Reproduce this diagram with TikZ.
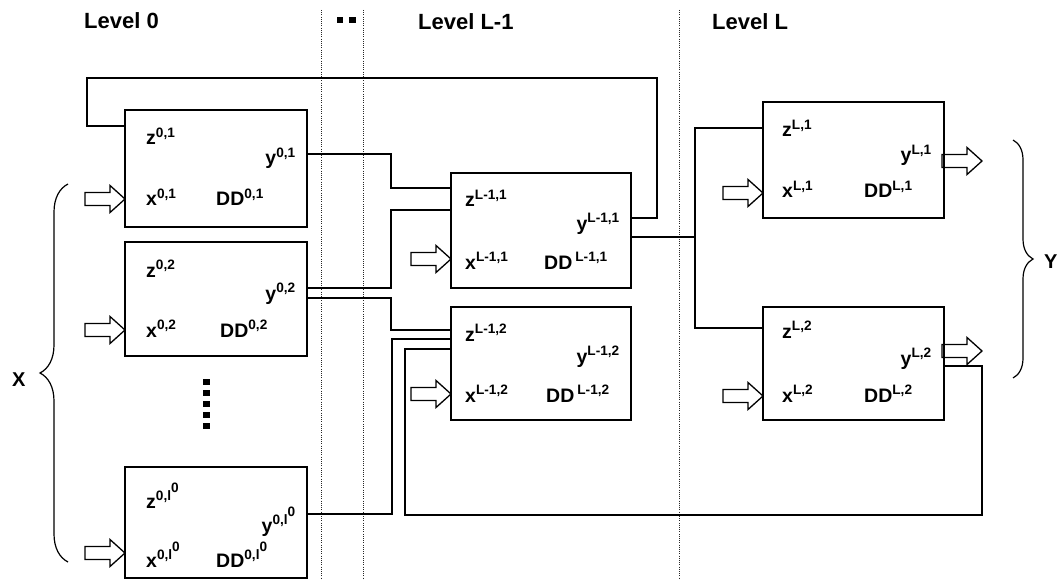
\documentclass[tikz,border=0pt]{standalone}
\usepackage{fontspec}
\setmainfont{Liberation Sans}
\usepackage{tikz}
\usetikzlibrary{positioning, decorations.pathreplacing}

\newcommand{\sps}[1]{\textsuperscript{#1}}
\newcommand{\lzero}{l\raisebox{0.55em}{0}}

\begin{document}
\begin{tikzpicture}[
    x=1pt, y=-1pt,
    ddbox/.style={rectangle, draw, line width=1.7pt, inner sep=0pt, outer sep=0pt},
    lbl/.style={inner sep=0pt, font=\fontsize{19.5}{22}\selectfont\bfseries, anchor=base west},
    lblr/.style={lbl, anchor=base east},
    level/.style={inner sep=0pt, font=\fontsize{22}{24}\selectfont\bfseries, anchor=base west},
    wire/.style={line width=1.7pt},
    sep/.style={line width=0.9pt, dash pattern=on 1pt off 1.2pt, black!85},
    curly/.style={decorate, decoration={brace, amplitude=#1}, line width=1.2pt},
    hollow/.pic={\draw[line width=1.3pt] (0,0) -- (-15,-13.5) -- (-15,-6.5) -- (-40,-6.5) -- (-40,6.5) -- (-15,6.5) -- (-15,13.5) -- cycle;}
]
    \useasboundingbox (0,0) rectangle (1057,580);

    % Levels
    \node[level] (lev0) at (84,29) {Level 0};
    \node[level] (levm) at (418,30) {Level L-1};
    \node[level] (levL) at (712,30) {Level L};
    \foreach \sx in {321,363,679}
        \draw[sep] (\sx,10) -- (\sx,580);
    \fill (337,17) rectangle (343,23);
    \fill (349,17) rectangle (356,23);

    % Boxes
    \node[ddbox, minimum width=182pt, minimum height=117pt] (d01) at (216,168.5) {};
    \node[ddbox, minimum width=182pt, minimum height=114pt, below=15pt of d01] (d02) {};
    \node[ddbox, minimum width=182pt, minimum height=111pt] (d0n) at (216,522.5) {};
    \node[ddbox, minimum width=180pt, minimum height=115pt] (dm1) at (541,230.5) {};
    \node[ddbox, minimum width=180pt, minimum height=113pt, below=19pt of dm1] (dm2) {};
    \node[ddbox, minimum width=181pt, minimum height=116pt] (dL1) at (853.5,160) {};
    \node[ddbox, minimum width=181pt, minimum height=113pt] (dL2) at (853.5,363.5) {};

    % Level 0 labels
    \node[lbl] (z01) at ([shift={(21,35)}]d01.north west) {z\sps{0,1}};
    \node[lblr] (y01) at ([shift={(-11,55)}]d01.north east) {y\sps{0,1}};
    \node[lbl] (x01) at ([shift={(21,96)}]d01.north west) {x\sps{0,1}};
    \node[lbl] (dd01) at ([shift={(91,96)}]d01.north west) {DD\sps{0,1}};
    \node[lbl] (z02) at ([shift={(21,35)}]d02.north west) {z\sps{0,2}};
    \node[lblr] (y02) at ([shift={(-11,58)}]d02.north east) {y\sps{0,2}};
    \node[lbl] (x02) at ([shift={(21,95)}]d02.north west) {x\sps{0,2}};
    \node[lbl] (dd02) at ([shift={(95,95)}]d02.north west) {DD\sps{0,2}};
    \node[lbl] (z0n) at ([shift={(21,41)}]d0n.north west) {z\sps{0,\lzero}};
    \node[lblr] (y0n) at ([shift={(-11,65)}]d0n.north east) {y\sps{0,\lzero}};
    \node[lbl] (x0n) at ([shift={(21,100)}]d0n.north west) {x\sps{0,\lzero}};
    \node[lbl] (dd0n) at ([shift={(91,100)}]d0n.north west) {DD\sps{0,\lzero}};

    % Level L-1 labels
    \node[lbl] (zm1) at ([shift={(14,34)}]dm1.north west) {z\sps{L-1,1}};
    \node[lblr] (ym1) at ([shift={(-11,57)}]dm1.north east) {y\sps{L-1,1}};
    \node[lbl] (xm1) at ([shift={(14,96)}]dm1.north west) {x\sps{L-1,1}};
    \node[lbl] (ddm1) at ([shift={(93,96)}]dm1.north west) {DD\hspace{3pt}\sps{L-1,1}};
    \node[lbl] (zm2) at ([shift={(14,34)}]dm2.north west) {z\sps{L-1,2}};
    \node[lblr] (ym2) at ([shift={(-11,56)}]dm2.north east) {y\sps{L-1,2}};
    \node[lbl] (xm2) at ([shift={(14,95)}]dm2.north west) {x\sps{L-1,2}};
    \node[lbl] (ddm2) at ([shift={(95,95)}]dm2.north west) {DD\hspace{3pt}\sps{L-1,2}};

    % Level L labels
    \node[lbl] (zL1) at ([shift={(19,35)}]dL1.north west) {z\sps{L,1}};
    \node[lblr] (yL1) at ([shift={(-12,60)}]dL1.north east) {y\sps{L,1}};
    \node[lbl] (xL1) at ([shift={(19,96)}]dL1.north west) {x\sps{L,1}};
    \node[lbl] (ddL1) at ([shift={(101,96)}]dL1.north west) {DD\sps{L,1}};
    \node[lbl] (zL2) at ([shift={(19,31)}]dL2.north west) {z\sps{L,2}};
    \node[lblr] (yL2) at ([shift={(-12,58)}]dL2.north east) {y\sps{L,2}};
    \node[lbl] (xL2) at ([shift={(19,95)}]dL2.north west) {x\sps{L,2}};
    \node[lbl] (ddL2) at ([shift={(101,95)}]dL2.north west) {DD\sps{L,2}};

    % Inputs and outputs
    \pic at (d01.west |- 0,199) {hollow};
    \pic at (d02.west |- 0,330) {hollow};
    \pic at (d0n.west |- 0,553) {hollow};
    \pic at (dm1.west |- 0,259) {hollow};
    \pic at (dm2.west |- 0,394) {hollow};
    \pic at (dL1.west |- 0,193) {hollow};
    \pic at (dL2.west |- 0,396) {hollow};
    \pic at ([xshift=38pt]dL1.east |- 0,161) {hollow};
    \pic at ([xshift=38pt]dL2.east |- 0,351) {hollow};

    % Wires
    \draw[wire] (dm1.east |- 0,218) -| (657,78) -| (87,126) -- (d01.west |- 0,126);
    \draw[wire] (d01.east |- 0,154) -| (391,188) -- (dm1.west |- 0,188);
    \draw[wire] (d02.east |- 0,288) -| (391,210) -- (dm1.west |- 0,210);
    \draw[wire] (d02.east |- 0,298) -| (391,330) -- (dm2.west |- 0,330);
    \draw[wire] (d0n.east |- 0,514) -| (392,339) -- (dm2.west |- 0,339);
    \draw[wire] (dL2.east |- 0,366) -| (982,515) -| (405,349) -- (dm2.west |- 0,349);
    \draw[wire] (dm1.east |- 0,237) -- (695,237) coordinate (split);
    \draw[wire] (dL1.west |- 0,128) -| (split) |- (dL2.west |- 0,328);

    % Dots
    \foreach \dy in {0,...,4}
        \fill (203,379+11*\dy) rectangle (210,385+11*\dy);

    % Braces
    \draw[curly=28pt] (68,562) -- (68,184);
    \draw[curly=20pt] (1013,140) -- (1013,378);
    \node[level, font=\fontsize{20}{24}\selectfont\bfseries] (X) at (12,386) {X};
    \node[level, font=\fontsize{20}{24}\selectfont\bfseries] (Y) at (1044,268) {Y};

\end{tikzpicture}
\end{document}
